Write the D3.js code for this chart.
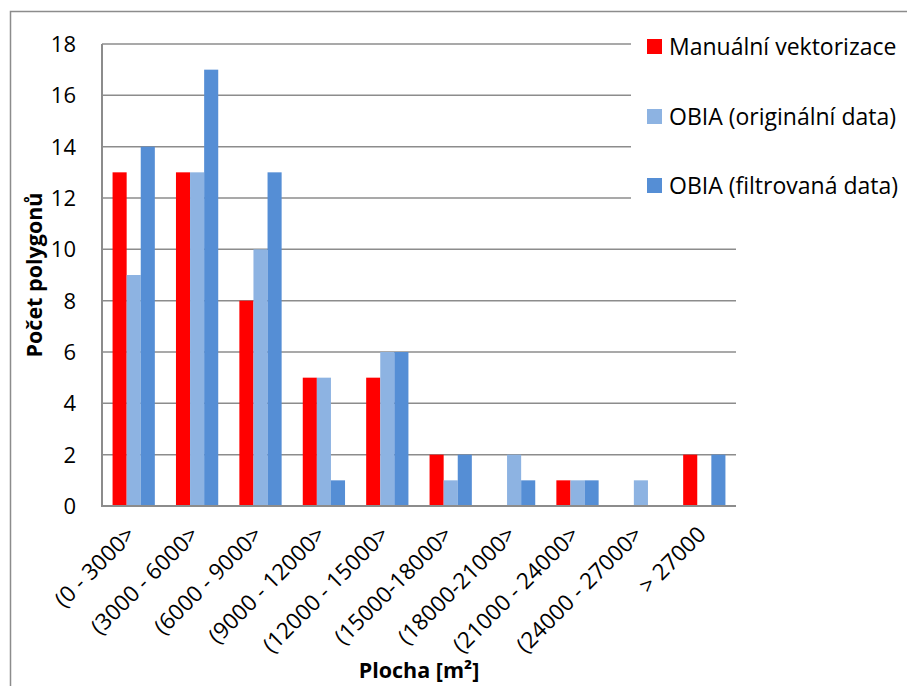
<!DOCTYPE html>
<html>
<head>
<meta charset="utf-8">
<script src="https://cdn.jsdelivr.net/npm/d3@7"></script>
<style>
  html, body { margin: 0; padding: 0; background: #fff; }
  svg { display: block; font-family: "Open Sans", sans-serif; }
</style>
</head>
<body>
<script>
const categories = ["(0 - 3000>", "(3000 - 6000>", "(6000 - 9000>", "(9000 - 12000>", "(12000 - 15000>",
  "(15000-18000>", "(18000-21000>", "(21000 - 24000>", "(24000 - 27000>", "> 27000"];
const seriesNames = ["Manuální vektorizace", "OBIA (originální data)", "OBIA (filtrovaná data)"];
const manual   = [13, 13, 8, 5, 5, 2, 0, 1, 0, 2];
const obiaOrig = [9, 13, 10, 5, 6, 1, 2, 1, 1, 0];
const obiaFilt = [14, 17, 13, 1, 6, 2, 1, 1, 0, 2];
const yTicks = [0, 2, 4, 6, 8, 10, 12, 14, 16, 18];
const colors = ["#FF0000", "#8DB3E2", "#558ED5"];
const yTitle = "Počet polygonů";
const xTitle = "Plocha [m²]";

const W = 907, H = 686;
const plot = { left: 102, right: 736, top: 44, bottom: 506 };
const series = [manual, obiaOrig, obiaFilt];

const svg = d3.select("body").append("svg").attr("width", W).attr("height", H);
svg.append("rect").attr("width", W).attr("height", H).attr("fill", "#fff");

// outer chart border
svg.append("rect").attr("x", 10.5).attr("y", 11.5).attr("width", W + 20).attr("height", H + 20)
  .attr("fill", "none").attr("stroke", "#8c8c8c").attr("stroke-width", 1.5);

const x = d3.scaleBand().domain(categories).range([plot.left, plot.right])
  .paddingInner(1.5 / 4.5).paddingOuter(0.75 / 4.5);
const xs = d3.scaleBand().domain(d3.range(series.length)).range([0, x.bandwidth()]);
const y = d3.scaleLinear().domain([0, 18]).range([plot.bottom, plot.top]);

// gridlines
svg.append("g").selectAll("line").data(yTicks.filter(d => d > 0)).join("line")
  .attr("x1", plot.left).attr("x2", plot.right)
  .attr("y1", d => y(d)).attr("y2", d => y(d))
  .attr("stroke", "#8c8c8c").attr("stroke-width", 1.5);

// bars
const gBars = svg.append("g");
series.forEach((vals, si) => {
  gBars.append("g").selectAll("rect").data(vals).join("rect")
    .attr("x", (d, i) => x(categories[i]) + xs(si))
    .attr("y", d => y(d))
    .attr("width", xs.bandwidth())
    .attr("height", d => y(0) - y(d))
    .attr("fill", colors[si]);
});

// axes lines
svg.append("line").attr("x1", plot.left).attr("x2", plot.left).attr("y1", plot.top).attr("y2", plot.bottom)
  .attr("stroke", "#8c8c8c").attr("stroke-width", 2);
svg.append("line").attr("x1", plot.left - 1).attr("x2", plot.right).attr("y1", y(0)).attr("y2", y(0))
  .attr("stroke", "#8c8c8c").attr("stroke-width", 2);

// y tick labels
svg.append("g").selectAll("text").data(yTicks).join("text")
  .attr("x", 76).attr("y", d => y(d)).attr("dy", "0.36em")
  .attr("text-anchor", "end").attr("font-size", 22).attr("fill", "#000")
  .text(d => d);

// x tick labels
svg.append("g").selectAll("text").data(categories).join("text")
  .attr("transform", d => `translate(${x(d) + x.bandwidth() / 2 + 3},536) rotate(-45)`)
  .attr("text-anchor", "end").attr("font-size", 22.5).attr("fill", "#000")
  .text(d => d);

// axis titles
svg.append("text")
  .attr("transform", `translate(42,${(plot.top + plot.bottom) / 2}) rotate(-90)`)
  .attr("text-anchor", "middle").attr("font-size", 21.5).attr("font-weight", "bold")
  .text(yTitle);
svg.append("text")
  .attr("x", (plot.left + plot.right) / 2).attr("y", 678)
  .attr("text-anchor", "middle").attr("font-size", 21.5).attr("font-weight", "bold")
  .text(xTitle);

// legend
svg.append("rect").attr("x", 631).attr("y", 26).attr("width", 276).attr("height", 194).attr("fill", "#fff");
const legY = [46.5, 116.5, 185.5];
const lg = svg.append("g").selectAll("g").data(seriesNames).join("g")
  .attr("transform", (d, i) => `translate(647,${legY[i]})`);
lg.append("rect").attr("x", 0).attr("y", -7.5).attr("width", 15).attr("height", 15)
  .attr("fill", (d, i) => colors[i]);
lg.append("text").attr("x", 22).attr("dy", "0.36em").attr("font-size", 23).attr("fill", "#000")
  .text(d => d);
</script>
</body>
</html>
